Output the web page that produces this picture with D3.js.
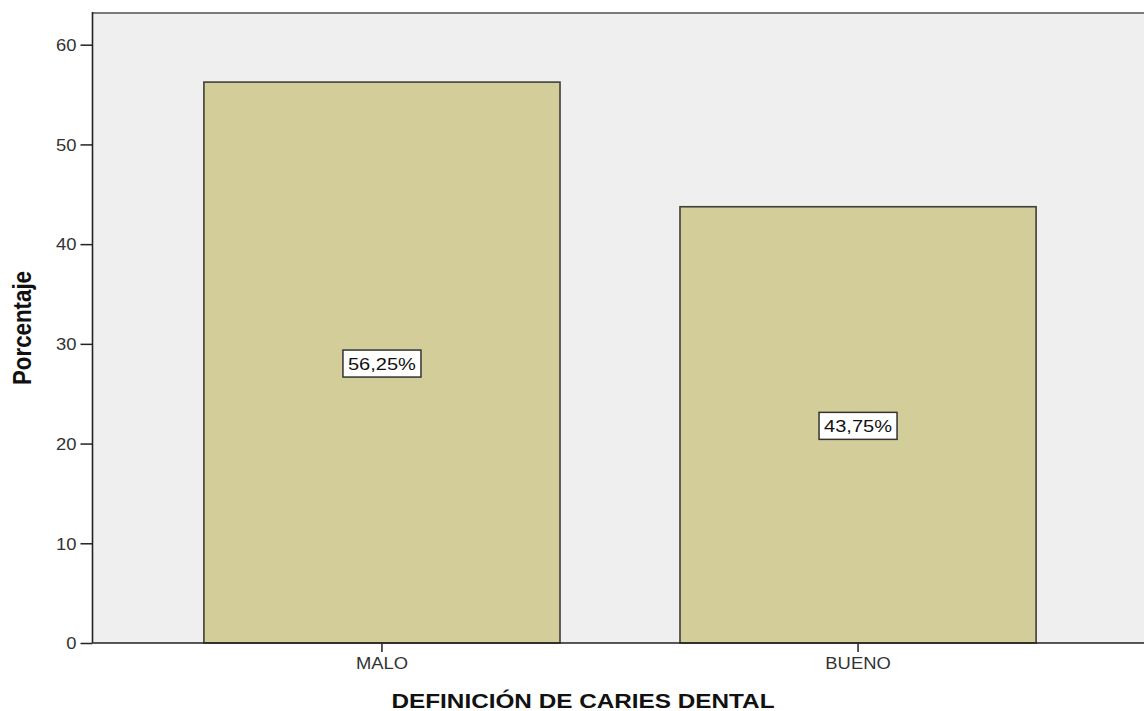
<!DOCTYPE html>
<html>
<head>
<meta charset="utf-8">
<script src="https://cdn.jsdelivr.net/npm/d3@7"></script>
<style>
  html, body { margin: 0; padding: 0; background: #fff; }
  svg { display: block; }
  text { font-family: Arial, "Liberation Sans", sans-serif; }
</style>
</head>
<body>
<svg id="chart" width="1144" height="711"></svg>
<script>
// chart values
var categories = ['MALO', 'BUENO'];
var percentValues = [56.25, 43.75];
var valueLabels = ['56,25%', '43,75%'];
var yTicks = [0, 10, 20, 30, 40, 50, 60];
var yTitle = 'Porcentaje';
var xTitle = 'DEFINICIÓN DE CARIES DENTAL';

var svg = d3.select('#chart'),
    plotLeft = 92.5, plotRight = 1147.5, plotTop = 13, plotBottom = 643,
    stretch = 1.15;

var x = d3.scaleBand()
    .domain(categories)
    .range([plotLeft, plotRight])
    .paddingInner(0.252)
    .paddingOuter(0.234);

var y = d3.scaleLinear()
    .domain([0, 60])
    .range([plotBottom, 44.7]);

// plot background
svg.append('rect')
    .attr('x', plotLeft).attr('y', plotTop)
    .attr('width', plotRight - plotLeft).attr('height', plotBottom - plotTop)
    .attr('fill', '#efefef');

// top frame line
svg.append('line')
    .attr('x1', plotLeft).attr('x2', plotRight)
    .attr('y1', plotTop).attr('y2', plotTop)
    .attr('stroke', '#7a7a7a').attr('stroke-width', 2);

// bars
svg.selectAll('rect.bar')
    .data(percentValues)
    .enter().append('rect')
    .attr('class', 'bar')
    .attr('x', function(d, i) { return x(categories[i]); })
    .attr('y', function(d) { return y(d); })
    .attr('width', x.bandwidth())
    .attr('height', function(d) { return y(0) - y(d); })
    .attr('fill', '#d3ce99')
    .attr('stroke', '#3f3f3a')
    .attr('stroke-width', 1.6);

// value labels in boxes
var labels = svg.selectAll('g.vlabel')
    .data(percentValues)
    .enter().append('g')
    .attr('class', 'vlabel')
    .attr('transform', function(d, i) {
        return 'translate(' + (x(categories[i]) + x.bandwidth() / 2) + ',' + ((y(d) + y(0)) / 2 + 1) + ')';
    });

labels.append('rect')
    .attr('x', -39).attr('y', -13.5)
    .attr('width', 78).attr('height', 27)
    .attr('fill', '#fff')
    .attr('stroke', '#333')
    .attr('stroke-width', 1.5);

labels.append('text')
    .attr('text-anchor', 'middle')
    .attr('y', 6)
    .attr('font-size', 16.5)
    .attr('fill', '#111')
    .attr('textLength', 68)
    .attr('lengthAdjust', 'spacingAndGlyphs')
    .text(function(d, i) { return valueLabels[i]; });

// y axis
var yAxis = svg.append('g')
    .attr('transform', 'translate(' + plotLeft + ',0)')
    .call(d3.axisLeft(y).tickValues(yTicks).tickSize(12).tickPadding(4).tickSizeOuter(0));
yAxis.select('.domain').remove();
yAxis.selectAll('.tick line').attr('stroke', '#222').attr('stroke-width', 1.5);
yAxis.selectAll('.tick text')
    .attr('font-size', 16)
    .attr('fill', '#333')
    .attr('font-family', 'Arial, "Liberation Sans", sans-serif')
    .attr('dy', '0.36em')
    .attr('transform', 'translate(-16,0) scale(' + stretch + ',1) translate(16,0)');
yAxis.append('line')
    .attr('x1', 0).attr('x2', 0)
    .attr('y1', plotTop - 1).attr('y2', plotBottom)
    .attr('stroke', '#222').attr('stroke-width', 1.6);

// x axis
var xAxis = svg.append('g')
    .attr('transform', 'translate(0,' + plotBottom + ')')
    .call(d3.axisBottom(x).tickSize(9).tickPadding(6).tickSizeOuter(0));
xAxis.select('.domain').remove();
xAxis.selectAll('.tick line').attr('stroke', '#222').attr('stroke-width', 1.5);
xAxis.selectAll('.tick text')
    .attr('font-size', 16)
    .attr('fill', '#333')
    .attr('font-family', 'Arial, "Liberation Sans", sans-serif')
    .attr('transform', 'scale(' + stretch + ',1)');
svg.append('line')
    .attr('x1', plotLeft).attr('x2', plotRight)
    .attr('y1', plotBottom).attr('y2', plotBottom)
    .attr('stroke', '#222').attr('stroke-width', 1.6);

// axis titles
svg.append('text')
    .attr('x', 583).attr('y', 708)
    .attr('text-anchor', 'middle')
    .attr('font-size', 20)
    .attr('font-weight', 'bold')
    .attr('fill', '#111')
    .attr('textLength', 383)
    .attr('lengthAdjust', 'spacingAndGlyphs')
    .text(xTitle);

svg.append('text')
    .attr('transform', 'translate(31,328) scale(1.2,1) rotate(-90)')
    .attr('text-anchor', 'middle')
    .attr('font-size', 22)
    .attr('font-weight', 'bold')
    .attr('fill', '#111')
    .attr('textLength', 114)
    .attr('lengthAdjust', 'spacingAndGlyphs')
    .text(yTitle);
</script>
</body>
</html>
